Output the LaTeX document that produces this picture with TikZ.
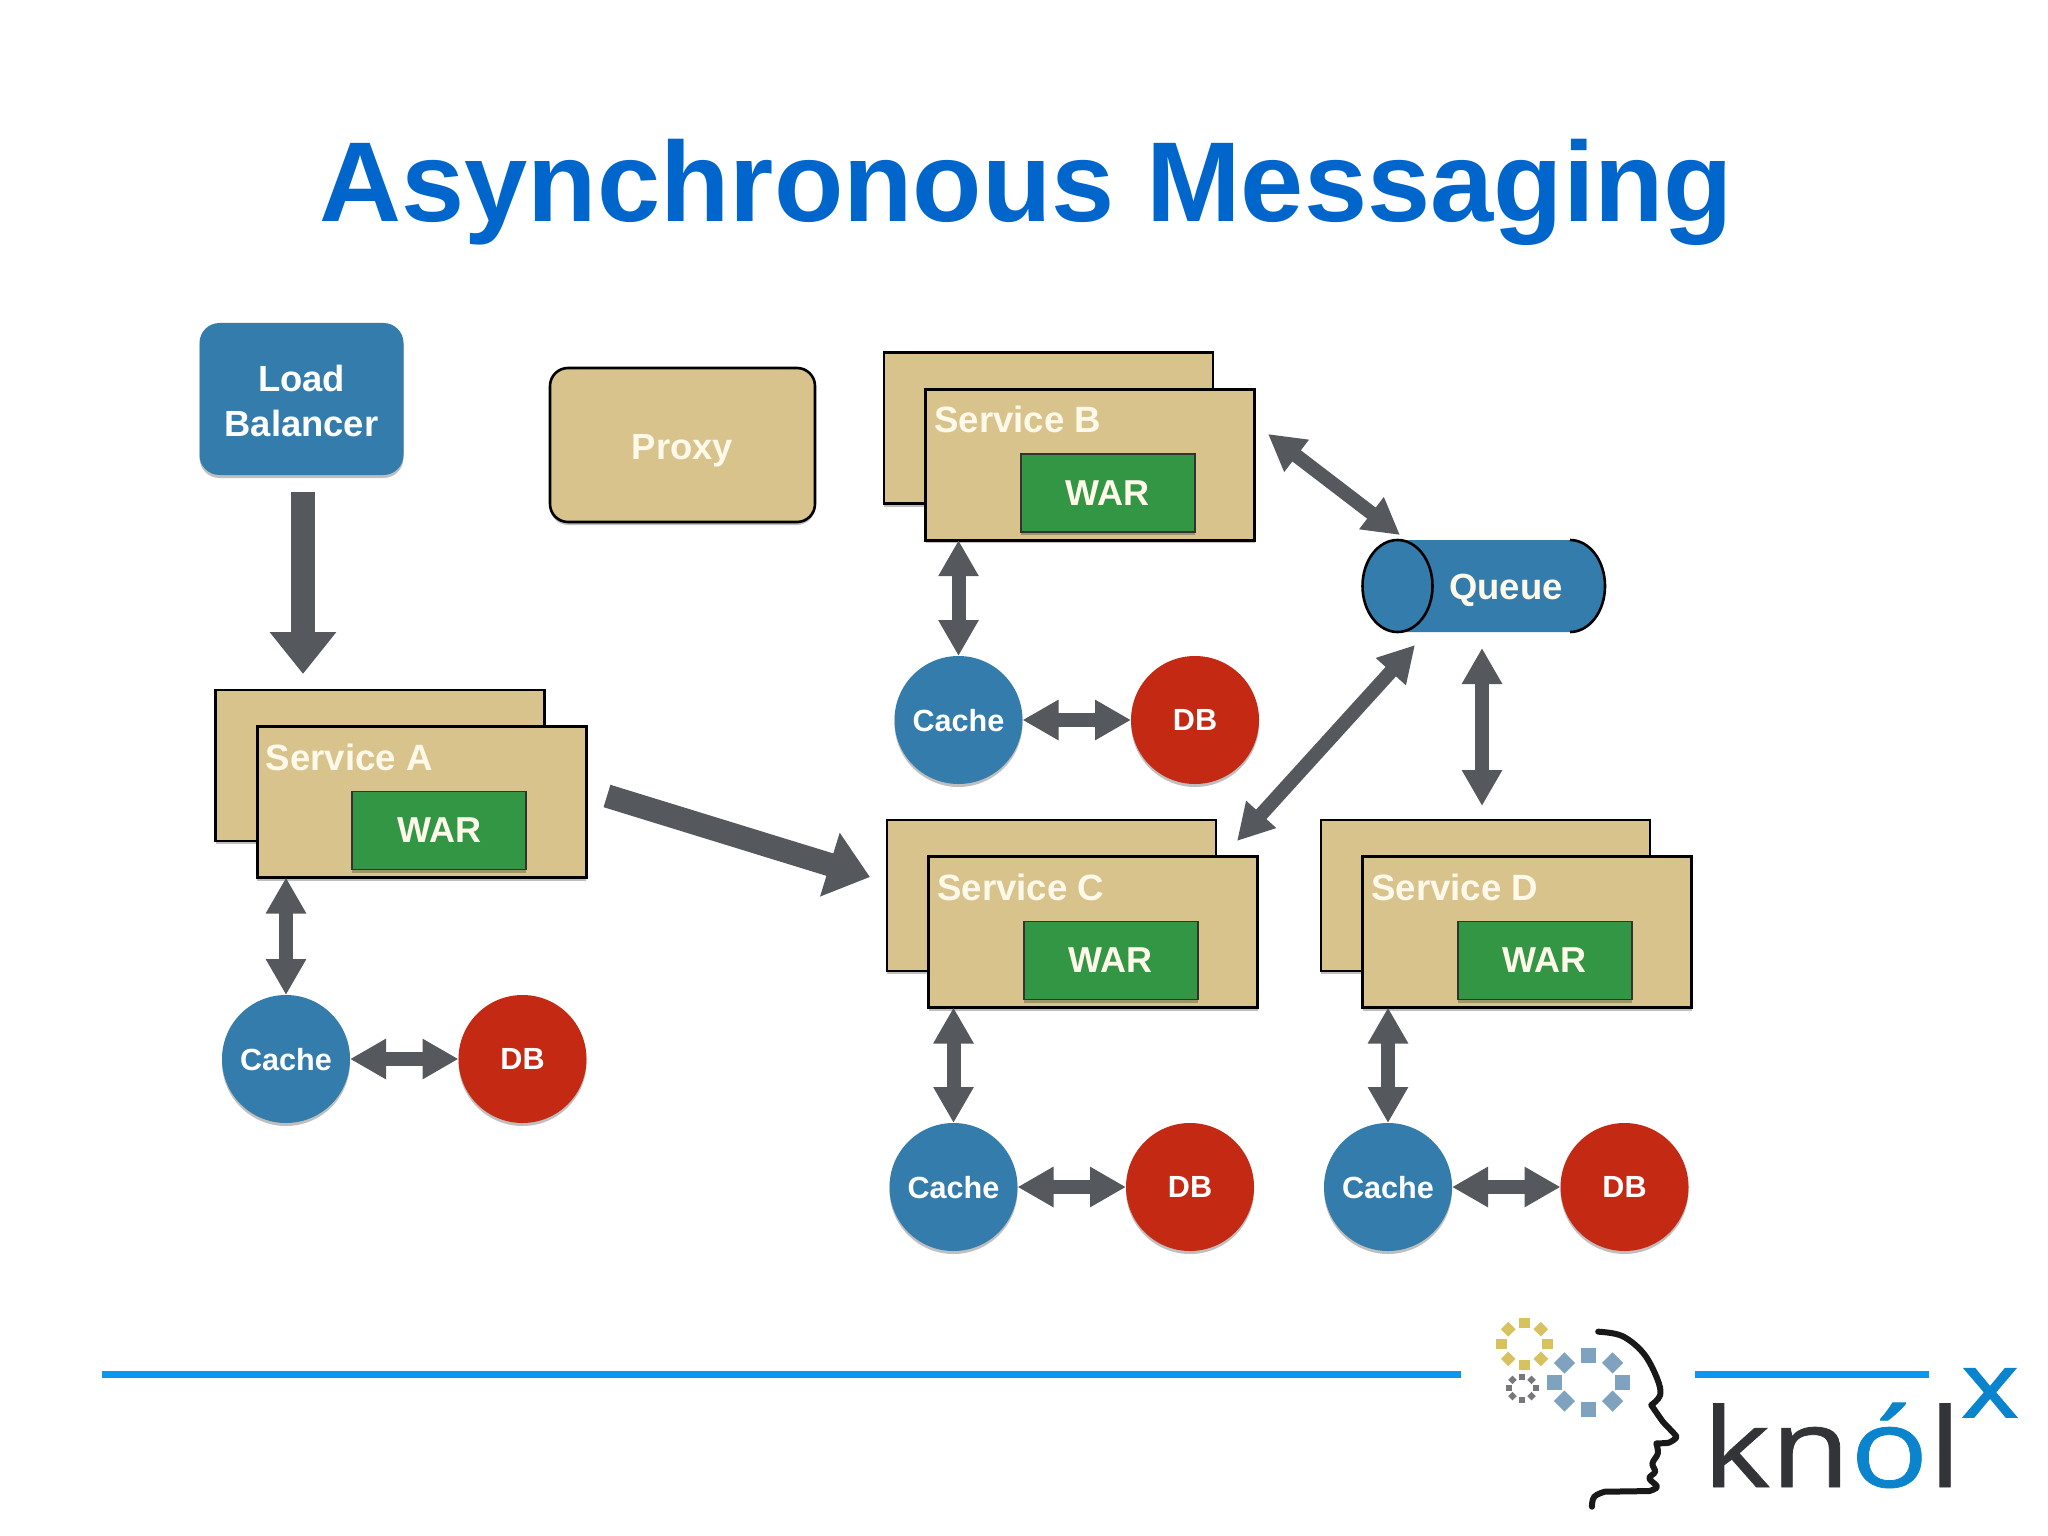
\documentclass[tikz,border=0pt]{standalone}
\usepackage{fontspec}
\setmainfont{Liberation Sans}
\newfontfamily\logofont[FakeStretch=1.18,FakeBold=0.7]{Open Sans}
\newfontfamily\logoxfont[FakeStretch=1.2,FakeBold=2]{Open Sans}
\usetikzlibrary{arrows.meta,shadows,calc}
\definecolor{titleblue}{HTML}{0066CC}
\definecolor{ruleblue}{HTML}{0A98EE}
\definecolor{boxblue}{HTML}{337CAB}
\definecolor{boxtan}{HTML}{D9C38C}
\definecolor{boxgreen}{HTML}{339645}
\definecolor{boxred}{HTML}{C42913}
\definecolor{arrowgrey}{HTML}{55585C}
\definecolor{softwhite}{HTML}{FFF9EA}
\definecolor{logoblue}{HTML}{0B84CE}
\definecolor{logodark}{HTML}{333438}
\definecolor{gearyellow}{HTML}{D8C25E}
\definecolor{gearblue}{HTML}{7FA2BE}
\definecolor{geargrey}{HTML}{77787C}
\tikzset{
  softshadow/.style={drop shadow={shadow xshift=0pt,shadow yshift=-1.5pt,opacity=.25,fill=black}},
  bx/.style={inner sep=0pt,outer sep=0pt,softshadow},
  tanbox/.style={bx,draw=black,line width=1.3pt,fill=boxtan,anchor=north west,minimum width=164.5pt,minimum height=75.5pt},
  warbox/.style={bx,draw=black!80,line width=.8pt,fill=boxgreen,anchor=north west,minimum width=87pt,minimum height=39pt,text=softwhite,font=\fontsize{18}{21}\selectfont\bfseries,text depth=-.6pt},
  svclabel/.style={anchor=west,inner sep=0pt,text=softwhite,font=\fontsize{18.3}{21}\selectfont\bfseries},
  roundnode/.style={bx,circle,minimum size=64pt,text=white,font=\fontsize{15.3}{18}\selectfont\bfseries,text depth=0pt},
  cachenode/.style={roundnode,fill=boxblue},
  dbnode/.style={roundnode,fill=boxred},
  fatarrow/.style={draw=arrowgrey,line width=11.7pt,-{Triangle[length=21pt,width=32pt]}},
  duplex/.style={draw=arrowgrey,line width=7pt,{Triangle[length=18pt,width=19pt]}-{Triangle[length=18pt,width=19pt]}},
}
\newcommand{\servicestack}[4]{%
  \node[tanbox] (#1back) at (#2,#3) {};
  \node[tanbox] (#1front) at ({#2+41.7},{#3+36.5}) {};
  \node[warbox] (#1war) at ({#2+136.7},{#3+101.5}) {WAR};
  \node[svclabel] (#1label) at ({#2+50},{#3+67}) {#4};
}
\newcommand{\logogear}[6]{%
  \foreach \a in {0,45,...,315}
    \fill[#6,shift={({#1+#3*cos(\a)},{#2+#4*sin(\a)})},rotate=\a] (-#5,-#5) rectangle (#5,#5);
}
\begin{document}
\begin{tikzpicture}[x=0.5pt,y=-0.5pt]
\useasboundingbox (0,0) rectangle (2048,1535);
\fill[white] (0,0) rectangle (2048,1535);
\node[anchor=base,inner sep=0pt,text=titleblue,font=\fontsize{56.8}{60}\selectfont\bfseries] (title) at (1026.5,222) {Asynchronous Messaging};
% load balancer and proxy
\node[bx,draw=none,fill=boxblue,rounded corners=10pt,anchor=north west,minimum width=102pt,minimum height=76pt] (lb) at (199.5,323) {};
\node[inner sep=0pt,align=center,text=white,font=\fontsize{18.2}{22.5}\selectfont\bfseries,yshift=-.8pt] (lbtext) at (lb) {Load\\Balancer};
\node[bx,draw=black,line width=1.3pt,fill=boxtan,rounded corners=9pt,anchor=north west,minimum width=132.5pt,minimum height=77pt] (proxy) at (550,368) {};
\node[inner sep=0pt,text=softwhite,font=\fontsize{18.2}{21}\selectfont\bfseries,text depth=0pt,yshift=-1pt] (proxytext) at (proxy) {Proxy};
% services
\servicestack{A}{215.5}{690}{Service A}
\servicestack{B}{884}{352.7}{Service B}
\servicestack{C}{887}{820}{Service C}
\servicestack{D}{1321}{820}{Service D}
% caches and dbs
\node[cachenode] (cacheA) at (286,1059) {Cache};
\node[dbnode] (dbA) at (522.5,1059) {DB};
\node[cachenode] (cacheB) at (958.5,720) {Cache};
\node[dbnode] (dbB) at (1195,720) {DB};
\node[cachenode] (cacheC) at (953.5,1187) {Cache};
\node[dbnode] (dbC) at (1190,1187) {DB};
\node[cachenode] (cacheD) at (1388,1187) {Cache};
\node[dbnode] (dbD) at (1624.5,1187) {DB};
% queue
\fill[boxblue] (1397.5,540) -- (1570,540) arc[start angle=-90,end angle=90,x radius=35,y radius=46] -- (1397.5,632) arc[start angle=90,end angle=270,x radius=35,y radius=46] -- cycle;
\draw[black,line width=1.3pt] (1570,540) arc[start angle=-90,end angle=90,x radius=35,y radius=46];
\draw[black,line width=1.3pt] (1397.5,586) ellipse[x radius=35,y radius=46];
\node[inner sep=0pt,text=softwhite,font=\fontsize{18.2}{21}\selectfont\bfseries] (queue) at (1506,590) {Queue};
% free ends of the connectors
\coordinate (lbout) at (303,492);
\coordinate (lbin) at (303,674);
\coordinate (aout) at (607,796);
\coordinate (cin) at (870,877);
\coordinate (bq) at (1268,434);
\coordinate (qb) at (1400,535);
\coordinate (qc) at (1415,645);
\coordinate (cq) at (1237,841);
\coordinate (qd) at (1482,648);
\coordinate (dq) at (1482,806);
% connectors
\draw[fatarrow] (lbout) -- (lbin);
\draw[fatarrow] (aout) -- (cin);
\draw[duplex] (bq) -- (qb);
\draw[duplex] (qc) -- (cq);
\draw[duplex] (qd) -- (dq);
\foreach \s in {A,B,C,D} {
  \draw[duplex] (cache\s |- \s front.south) -- (cache\s.north);
  \draw[duplex] (cache\s.east) -- (db\s.west);
}
% rules
\draw[ruleblue,line width=3.5pt] (102,1374) -- (1461,1374);
\draw[ruleblue,line width=3.5pt] (1695,1374) -- (1929,1374);
% logo
\logogear{1524.5}{1344}{23}{21}{5.2}{gearyellow}
\logogear{1588.5}{1382}{34}{27}{7.5}{gearblue}
\logogear{1522}{1388}{13.5}{11.5}{3}{geargrey}
\begin{scope}[shift={(1440,1290)},x=0.1938pt,y=-0.1667pt]
\draw[black!90,line width=3pt,line cap=round,line join=round]
  plot[smooth,tension=.6] coordinates {(408,125) (470,138) (525,190) (560,265) (568,315) (545,345)}
  -- plot[smooth,tension=.3] coordinates {(545,345) (575,395) (610,440) (590,458) (558,460)}
  -- plot[smooth,tension=.6] coordinates {(558,460) (562,490) (548,520) (555,545) (540,565) (560,590) (540,603)}
  -- (425,605)
  -- plot[smooth,tension=.7] coordinates {(425,605) (398,620) (392,650)};
\end{scope}
\node[anchor=base west,inner sep=0pt,font=\fontsize{55}{60}\logofont\selectfont,text=logodark] (logotext) at (1702,1487) {kn\textcolor{logoblue}{ó}l};
\node[anchor=base,inner sep=0pt,font=\fontsize{45}{50}\logoxfont\selectfont,text=logoblue] (logox) at (1990,1417) {x};
\end{tikzpicture}
\end{document}
